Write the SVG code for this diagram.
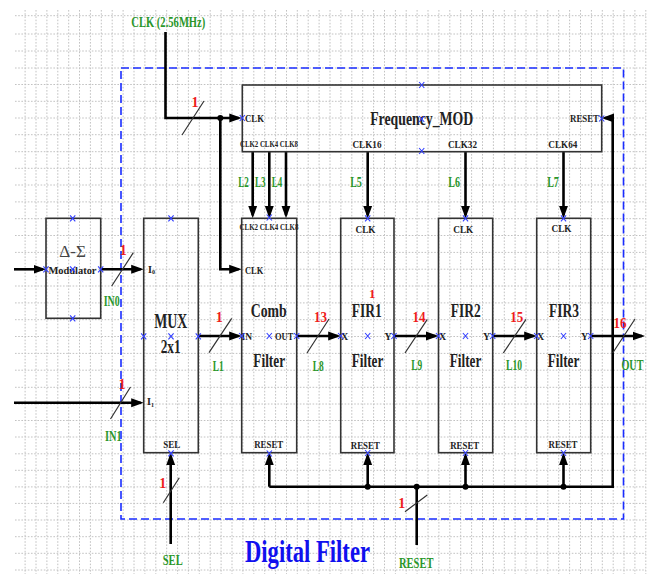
<svg xmlns="http://www.w3.org/2000/svg" width="652" height="576" viewBox="0 0 652 576">
<defs>
<style>
.grid{stroke:#c2c2c2;stroke-width:1;stroke-dasharray:1.6 1.6;fill:none}
.box{fill:none;stroke:#333;stroke-width:1.6}
.wire{stroke:#000;stroke-width:2.6;fill:none}
.arr{marker-end:url(#ah)}
.slash{stroke:#333;stroke-width:1.2}
.xm{stroke:#3340ff;stroke-width:1.1;fill:none}
.t{font-family:"Liberation Serif","Times New Roman",serif;font-weight:bold;fill:#222}
.m{text-anchor:middle}
.g{fill:#2a962a}
.r{fill:#ee1c1c}
.dot{fill:#000}
</style>
<marker id="ah" markerUnits="userSpaceOnUse" markerWidth="13" markerHeight="10" refX="9.5" refY="5" orient="auto"><path d="M0,0.5 L12.5,5 L0,9.5 z" fill="#000"/></marker>
<path id="xm" class="xm" d="M-2.6,-3L2.6,3M-2.6,3L2.6,-3"/>
</defs>
<rect width="652" height="576" fill="#fff"/>
<g id="grid">
<path class="grid" d="M15 15.7H646M15 34H646M15 51H646M15 68H646M15 84.5H646M15 101.3H646M15 118H646M15 134.7H646M15 151.7H646M15 168.3H646M15 185H646M15 201.9H646M15 218.7H646M15 235.5H646M15 252.4H646M15 269.2H646M15 286H646M15 302.9H646M15 319.7H646M15 336.5H646M15 353.4H646M15 370.2H646M15 387.3H646M15 404H646M15 420.5H646M15 437H646M15 453.8H646M15 470.3H646M15 486.9H646M15 503.4H646M15 520H646M15 536.7H646M15 553.3H646M15 570H646"/>
<path class="grid" d="M25.1 10V574M36 10V574M46.9 10V574M57.8 10V574M68.7 10V574M79.5 10V574M90.4 10V574M101.3 10V574M112.2 10V574M123.1 10V574M134 10V574M144.9 10V574M155.8 10V574M166.7 10V574M177.6 10V574M188.4 10V574M199.3 10V574M210.2 10V574M221.1 10V574M232 10V574M242.9 10V574M253.8 10V574M264.7 10V574M275.6 10V574M286.5 10V574M297.3 10V574M308.2 10V574M319.1 10V574M330 10V574M340.9 10V574M351.8 10V574M362.7 10V574M373.6 10V574M384.5 10V574M395.4 10V574M406.2 10V574M417.1 10V574M428 10V574M438.9 10V574M449.8 10V574M460.7 10V574M471.6 10V574M482.5 10V574M493.4 10V574M504.3 10V574M515.1 10V574M526 10V574M536.9 10V574M547.8 10V574M558.7 10V574M569.6 10V574M580.5 10V574M591.4 10V574M602.3 10V574M613.2 10V574M624 10V574M634.9 10V574M645.8 10V574"/>
</g>
<g id="digital_filter_boundary">
<rect x="121" y="68" width="502.5" height="451" fill="none" stroke="#1a2cff" stroke-width="1.6" stroke-dasharray="8 4"/>
<text class="t" x="346.5" y="562.5" font-size="32" style="fill:#1010ee" transform="scale(0.707,1)">Digital Filter</text>
</g>
<g id="connectors">
<path class="wire arr" d="M165.5,32 V118 H238.8"/>
<path class="wire arr" d="M220.3,118 V269.3 H238.7"/>
<path class="wire arr" d="M252.7,152 V215.3"/>
<path class="wire arr" d="M269.3,152 V215.3"/>
<path class="wire arr" d="M286,152 V215.3"/>
<path class="wire arr" d="M367.7,152 V215.3"/>
<path class="wire arr" d="M465.5,152 V215.3"/>
<path class="wire arr" d="M563.5,152 V215.3"/>
<path class="wire arr" d="M14,269.3 H43"/>
<path class="wire arr" d="M100.7,269.3 H140.7"/>
<path class="wire arr" d="M14,402.7 H140.7"/>
<path class="wire arr" d="M198.3,336 H238.7"/>
<path class="wire arr" d="M296.7,336 H337.7"/>
<path class="wire arr" d="M394,336 H435.5"/>
<path class="wire arr" d="M492.7,336 H533.7"/>
<path class="wire arr" d="M590.7,336 H642"/>
<path class="wire arr" d="M170.7,544 V455.7"/>
<path class="wire arr" d="M269.3,486.7 H612.7 V118 H604.7"/>
<path class="wire arr" d="M269.3,486.7 V455.7"/>
<path class="wire arr" d="M367.7,486.7 V455.7"/>
<path class="wire arr" d="M465.5,486.7 V455.7"/>
<path class="wire arr" d="M563.5,486.7 V455.7"/>
<path class="wire" d="M416.7,545 V486.7"/>
<circle class="dot" cx="220.3" cy="118" r="3"/>
<circle class="dot" cx="367.7" cy="486.7" r="3"/>
<circle class="dot" cx="416.7" cy="486.7" r="3"/>
<circle class="dot" cx="465.5" cy="486.7" r="3"/>
<circle class="dot" cx="563.5" cy="486.7" r="3"/>
<path class="slash" d="M182,135L204,101M111.7,286L133.3,252.7M110.5,419L130.5,387M209,352.7L231.7,318.3M307,353L329,319M405,353L427.3,319.3M503.3,353L526,319.3M612.7,353L635,319M163.3,502.7L179.3,477.7M405,511.7L427.3,495"/>
<g class="t r" font-size="14">
<text x="195" y="107" class="m">1</text>
<text x="123.3" y="255" class="m">1</text>
<text x="122" y="389" class="m">1</text>
<text x="219.3" y="321.7" class="m">1</text>
<text x="320.5" y="322" class="m" textLength="13" lengthAdjust="spacingAndGlyphs">13</text>
<text x="419" y="321.7" class="m" textLength="13" lengthAdjust="spacingAndGlyphs">14</text>
<text x="516.7" y="321.7" class="m" textLength="13" lengthAdjust="spacingAndGlyphs">15</text>
<text x="620" y="328" class="m" textLength="13" lengthAdjust="spacingAndGlyphs">16</text>
<text x="162.7" y="488" class="m">1</text>
<text x="401.7" y="507.7" class="m">1</text>
</g>
<g class="t g" font-size="15">
<text x="168.3" y="26.5" class="m" textLength="74" lengthAdjust="spacingAndGlyphs">CLK (2.56MHz)</text>
<text x="243.5" y="186.5" class="m" textLength="10.5" lengthAdjust="spacingAndGlyphs">L2</text>
<text x="260.3" y="186.5" class="m" textLength="10.5" lengthAdjust="spacingAndGlyphs">L3</text>
<text x="277" y="186.5" class="m" textLength="10.5" lengthAdjust="spacingAndGlyphs">L4</text>
<text x="356" y="186.5" class="m" textLength="11.7" lengthAdjust="spacingAndGlyphs">L5</text>
<text x="454.2" y="186.5" class="m" textLength="11.7" lengthAdjust="spacingAndGlyphs">L6</text>
<text x="553" y="186.5" class="m" textLength="11.7" lengthAdjust="spacingAndGlyphs">L7</text>
<text x="111.7" y="305.5" class="m" textLength="16" lengthAdjust="spacingAndGlyphs">IN0</text>
<text x="113.3" y="441" class="m" textLength="16.7" lengthAdjust="spacingAndGlyphs">IN1</text>
<text x="218.3" y="371" class="m" textLength="11" lengthAdjust="spacingAndGlyphs">L1</text>
<text x="318.3" y="371" class="m" textLength="11" lengthAdjust="spacingAndGlyphs">L8</text>
<text x="416.7" y="370" class="m" textLength="11" lengthAdjust="spacingAndGlyphs">L9</text>
<text x="514" y="370" class="m" textLength="16" lengthAdjust="spacingAndGlyphs">L10</text>
<text x="930.1" y="370" class="m" transform="scale(0.68,1)">OUT</text>
<text x="172.7" y="565" class="m" textLength="20" lengthAdjust="spacingAndGlyphs">SEL</text>
<text x="594.6" y="568" class="m" transform="scale(0.7,1)">RESET</text>
</g>
</g>
<g id="freq_mod">
<rect class="box" x="242.3" y="85" width="359.4" height="66.7"/>
<text class="t" x="245" y="121.5" font-size="11" textLength="19" lengthAdjust="spacingAndGlyphs">CLK</text>
<text class="t" x="240" y="146.5" font-size="8" textLength="58" lengthAdjust="spacingAndGlyphs">CLK2 CLK4 CLK8</text>
<text class="t m" x="421.7" y="124.5" font-size="19" textLength="103" lengthAdjust="spacingAndGlyphs">Frequency_MOD</text>
<text class="t" x="570" y="121.5" font-size="10" textLength="29" lengthAdjust="spacingAndGlyphs">RESET</text>
<text class="t m" x="367" y="148" font-size="11" textLength="29" lengthAdjust="spacingAndGlyphs">CLK16</text>
<text class="t m" x="462.5" y="148" font-size="11" textLength="29" lengthAdjust="spacingAndGlyphs">CLK32</text>
<text class="t m" x="562.8" y="148" font-size="11" textLength="29" lengthAdjust="spacingAndGlyphs">CLK64</text>
<use href="#xm" x="242.3" y="118"/><use href="#xm" x="421.7" y="85"/><use href="#xm" x="421.7" y="119"/><use href="#xm" x="421.7" y="151"/><use href="#xm" x="601.7" y="118.5"/>
</g>
<g id="delta_sigma">
<rect class="box" x="46" y="218.3" width="54.7" height="100"/>
<text x="72.7" y="256.5" font-family="Liberation Serif, serif" font-size="17" fill="#444" text-anchor="middle" textLength="26.7" lengthAdjust="spacingAndGlyphs">Δ-Σ</text>
<text class="t m" x="72.5" y="273.5" font-size="11" textLength="48" lengthAdjust="spacingAndGlyphs">Modulator</text>
<use href="#xm" x="72.7" y="218.3"/><use href="#xm" x="46" y="269.3"/><use href="#xm" x="72.7" y="269.3"/><use href="#xm" x="100.7" y="269.3"/><use href="#xm" x="72.7" y="318.3"/>
</g>
<g id="mux">
<rect class="box" x="143.7" y="218.3" width="54.6" height="234.4"/>
<text class="t" x="148" y="272.5" font-size="10">I<tspan font-size="6" dy="1.5">0</tspan></text>
<text class="t" x="147" y="405" font-size="10">I<tspan font-size="6" dy="1.5">1</tspan></text>
<text class="t m" x="170.7" y="328" font-size="21" textLength="33" lengthAdjust="spacingAndGlyphs">MUX</text>
<text class="t m" x="170.7" y="353" font-size="19" textLength="20" lengthAdjust="spacingAndGlyphs">2x1</text>
<text class="t m" x="171.7" y="448" font-size="10" textLength="17" lengthAdjust="spacingAndGlyphs">SEL</text>
<use href="#xm" x="171" y="218.3"/><use href="#xm" x="143.7" y="336.3"/><use href="#xm" x="171" y="336.3"/><use href="#xm" x="198.3" y="336.3"/><use href="#xm" x="171" y="453.3"/>
</g>
<g id="comb_filter">
<rect class="box" x="241.7" y="218.3" width="55" height="234.4"/>
<text class="t" x="239.5" y="229.5" font-size="7.5" textLength="59" lengthAdjust="spacingAndGlyphs">CLK2 CLK4 CLK8</text>
<text class="t" x="245" y="274" font-size="11" textLength="18.3" lengthAdjust="spacingAndGlyphs">CLK</text>
<text class="t m" x="268.7" y="316.7" font-size="19" textLength="36" lengthAdjust="spacingAndGlyphs">Comb</text>
<text class="t" x="241.5" y="340" font-size="10" textLength="10.5" lengthAdjust="spacingAndGlyphs">IN</text>
<text class="t" x="275" y="340" font-size="10" textLength="18.3" lengthAdjust="spacingAndGlyphs">OUT</text>
<text class="t m" x="269.2" y="366.7" font-size="19" textLength="31.7" lengthAdjust="spacingAndGlyphs">Filter</text>
<text class="t m" x="268.7" y="448" font-size="10" textLength="29" lengthAdjust="spacingAndGlyphs">RESET</text>
<use href="#xm" x="269.3" y="217.5"/><use href="#xm" x="241.7" y="336"/><use href="#xm" x="269.3" y="336"/><use href="#xm" x="296.7" y="336"/><use href="#xm" x="269.3" y="453.5"/>
</g>
<g id="fir1">
<rect class="box" x="340.7" y="218.3" width="53.3" height="234.4"/>
<text class="t m" x="365.5" y="232.5" font-size="11" textLength="20" lengthAdjust="spacingAndGlyphs">CLK</text>
<text class="t r m" x="372.3" y="298" font-size="13">1</text>
<text class="t m" x="366.7" y="316.7" font-size="19" textLength="30" lengthAdjust="spacingAndGlyphs">FIR1</text>
<text class="t" x="341" y="340" font-size="10">X</text>
<text class="t" x="384.5" y="340" font-size="10">Y</text>
<text class="t m" x="367.5" y="366.7" font-size="19" textLength="31.6" lengthAdjust="spacingAndGlyphs">Filter</text>
<text class="t m" x="365.3" y="449" font-size="10" textLength="29" lengthAdjust="spacingAndGlyphs">RESET</text>
<use href="#xm" x="367.7" y="218.3"/><use href="#xm" x="340.7" y="336"/><use href="#xm" x="367.7" y="336"/><use href="#xm" x="394" y="336"/><use href="#xm" x="367.7" y="453"/>
</g>
<g id="fir2">
<rect class="box" x="438.5" y="218.3" width="54.2" height="234.4"/>
<text class="t m" x="463.3" y="232.5" font-size="11" textLength="20" lengthAdjust="spacingAndGlyphs">CLK</text>
<text class="t m" x="465.7" y="316.7" font-size="19" textLength="30" lengthAdjust="spacingAndGlyphs">FIR2</text>
<text class="t" x="439" y="340" font-size="10">X</text>
<text class="t" x="483" y="340" font-size="10">Y</text>
<text class="t m" x="465.5" y="366.7" font-size="19" textLength="31.6" lengthAdjust="spacingAndGlyphs">Filter</text>
<text class="t m" x="464.7" y="449" font-size="10" textLength="29" lengthAdjust="spacingAndGlyphs">RESET</text>
<use href="#xm" x="465.5" y="218.3"/><use href="#xm" x="438.5" y="336"/><use href="#xm" x="465.5" y="336"/><use href="#xm" x="492.7" y="336"/><use href="#xm" x="465.5" y="453"/>
</g>
<g id="fir3">
<rect class="box" x="536.7" y="218.3" width="54" height="234.4"/>
<text class="t m" x="561.5" y="231.5" font-size="11" textLength="20" lengthAdjust="spacingAndGlyphs">CLK</text>
<text class="t m" x="564" y="316.7" font-size="19" textLength="30" lengthAdjust="spacingAndGlyphs">FIR3</text>
<text class="t" x="537" y="340" font-size="10">X</text>
<text class="t" x="581" y="340" font-size="10">Y</text>
<text class="t m" x="563.5" y="366.7" font-size="19" textLength="31.6" lengthAdjust="spacingAndGlyphs">Filter</text>
<text class="t m" x="563" y="448" font-size="10" textLength="29" lengthAdjust="spacingAndGlyphs">RESET</text>
<use href="#xm" x="563.5" y="218.3"/><use href="#xm" x="536.7" y="336"/><use href="#xm" x="563.5" y="336"/><use href="#xm" x="590.7" y="336"/><use href="#xm" x="563.5" y="453"/>
</g>
</svg>
